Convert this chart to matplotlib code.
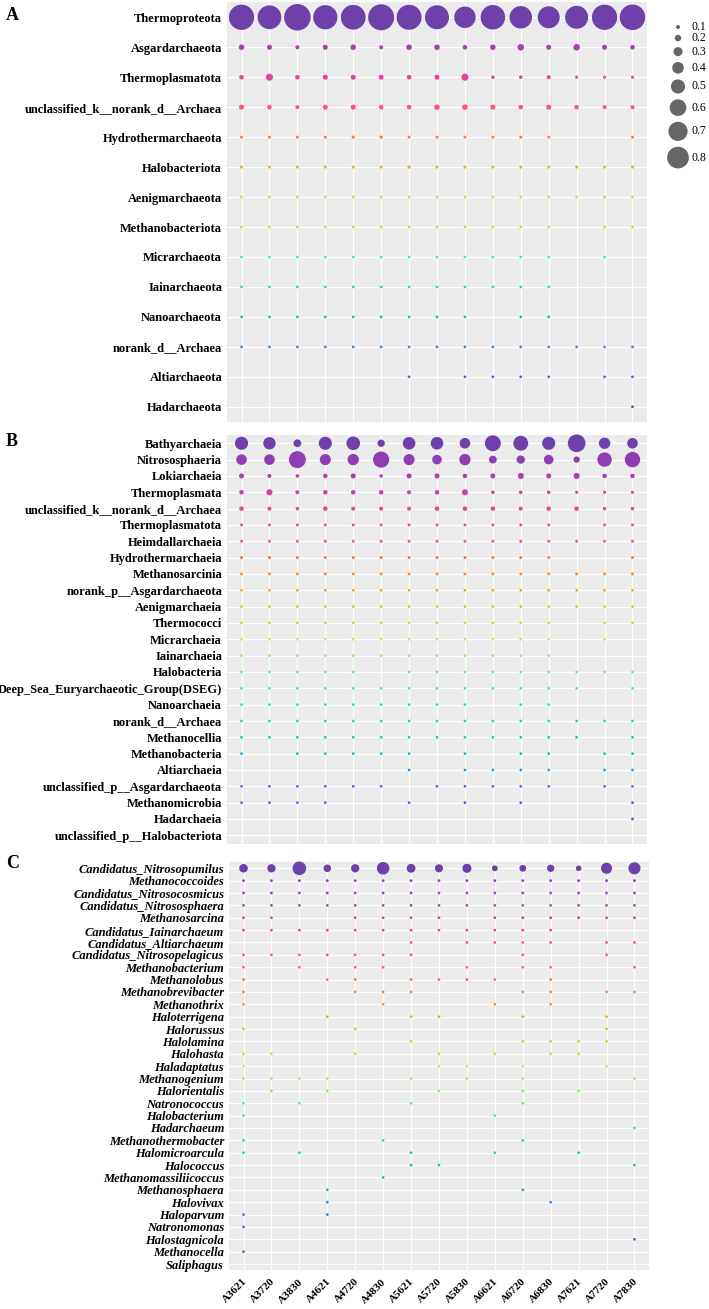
import numpy as np
import matplotlib
matplotlib.use("Agg")
import matplotlib.pyplot as plt
from matplotlib.transforms import ScaledTranslation

# samples (columns), shared by all three panels
samples = ["A3621", "A3720", "A3830", "A4621", "A4720", "A4830", "A5621", "A5720",
           "A5830", "A6621", "A6720", "A6830", "A7621", "A7720", "A7830"]

# panel A: phylum level
phylum_taxa = ["Thermoproteota", "Asgardarchaeota", "Thermoplasmatota",
               "unclassified_k__norank_d__Archaea", "Hydrothermarchaeota",
               "Halobacteriota", "Aenigmarchaeota", "Methanobacteriota",
               "Micrarchaeota", "Iainarchaeota", "Nanoarchaeota",
               "norank_d__Archaea", "Altiarchaeota", "Hadarchaeota"]
phylum_vals = [
    [0.94, 0.88, 0.99, 0.90, 0.92, 0.97, 0.93, 0.89, 0.79, 0.91, 0.83, 0.81, 0.85, 0.94, 0.95],
    [0.16, 0.14, 0.10, 0.14, 0.16, 0.10, 0.16, 0.16, 0.12, 0.16, 0.20, 0.14, 0.20, 0.14, 0.12],
    [0.12, 0.22, 0.12, 0.14, 0.14, 0.14, 0.12, 0.14, 0.22, 0.08, 0.08, 0.10, 0.06, 0.06, 0.06],
    [0.14, 0.12, 0.10, 0.14, 0.14, 0.12, 0.12, 0.16, 0.16, 0.14, 0.12, 0.14, 0.12, 0.10, 0.10],
    [0.06, 0.06, 0.06, 0.06, 0.07, 0.07, 0.06, 0.06, 0.06, 0.06, 0.06, 0.06, 0, 0, 0.06],
    [0.06, 0.06, 0.06, 0.06, 0.06, 0.06, 0.07, 0.06, 0.06, 0.06, 0.06, 0.06, 0.06, 0.06, 0.06],
    [0.05, 0.05, 0.05, 0.05, 0.05, 0.05, 0.05, 0.05, 0.05, 0.05, 0.05, 0.05, 0.05, 0.05, 0.05],
    [0.05, 0.05, 0.05, 0.05, 0.05, 0.05, 0.05, 0.05, 0.05, 0.05, 0.05, 0.05, 0, 0.05, 0.05],
    [0.05, 0.05, 0.05, 0.05, 0.05, 0.05, 0.05, 0.05, 0.05, 0.05, 0.05, 0.05, 0, 0.05, 0],
    [0.05, 0.05, 0.05, 0.05, 0.05, 0.05, 0.05, 0.05, 0.05, 0.05, 0.05, 0.05, 0, 0, 0],
    [0.05, 0.05, 0.05, 0.05, 0.05, 0.05, 0.05, 0.05, 0.05, 0, 0.05, 0.05, 0, 0, 0],
    [0.05, 0.05, 0.05, 0.05, 0.05, 0.05, 0.05, 0.05, 0.05, 0.05, 0.05, 0.05, 0.05, 0.05, 0.05],
    [0, 0, 0, 0, 0, 0, 0.05, 0, 0.05, 0.05, 0.05, 0.05, 0, 0.05, 0.05],
    [0, 0, 0, 0, 0, 0, 0, 0, 0, 0, 0, 0, 0, 0, 0.05],
]

# panel B: class level
class_taxa = ["Bathyarchaeia", "Nitrososphaeria", "Lokiarchaeia", "Thermoplasmata",
              "unclassified_k__norank_d__Archaea", "Thermoplasmatota", "Heimdallarchaeia",
              "Hydrothermarchaeia", "Methanosarcinia", "norank_p__Asgardarchaeota",
              "Aenigmarchaeia", "Thermococci", "Micrarchaeia", "Iainarchaeia",
              "Halobacteria", "Deep_Sea_Euryarchaeotic_Group(DSEG)", "Nanoarchaeia",
              "norank_d__Archaea", "Methanocellia", "Methanobacteria", "Altiarchaeia",
              "unclassified_p__Asgardarchaeota", "Methanomicrobia", "Hadarchaeia",
              "unclassified_p__Halobacteriota"]
class_vals = [
    [0.46, 0.43, 0.25, 0.46, 0.48, 0.23, 0.44, 0.44, 0.36, 0.57, 0.53, 0.46, 0.64, 0.39, 0.36],
    [0.36, 0.36, 0.61, 0.38, 0.39, 0.58, 0.38, 0.32, 0.39, 0.25, 0.27, 0.32, 0.19, 0.51, 0.55],
    [0.14, 0.10, 0.08, 0.12, 0.14, 0.08, 0.14, 0.14, 0.12, 0.14, 0.18, 0.14, 0.18, 0.12, 0.12],
    [0.12, 0.18, 0.10, 0.12, 0.12, 0.12, 0.10, 0.12, 0.18, 0.08, 0.08, 0.08, 0.06, 0.06, 0.06],
    [0.12, 0.10, 0.08, 0.12, 0.10, 0.10, 0.10, 0.12, 0.12, 0.12, 0.10, 0.12, 0.12, 0.08, 0.08],
    [0.06, 0.06, 0.06, 0.06, 0.06, 0.06, 0.06, 0.06, 0.06, 0.06, 0.06, 0.06, 0, 0.06, 0.06],
    [0.06, 0.06, 0.06, 0.06, 0.06, 0.06, 0.06, 0.06, 0.06, 0.06, 0.06, 0.06, 0.06, 0.06, 0.06],
    [0.06, 0.06, 0.06, 0.06, 0.06, 0.06, 0.06, 0.06, 0.06, 0.06, 0.06, 0.06, 0, 0, 0.06],
    [0.06, 0.06, 0.06, 0.06, 0.06, 0.06, 0.06, 0.06, 0.06, 0.06, 0.06, 0.06, 0.06, 0.06, 0.06],
    [0.05, 0.05, 0.05, 0.05, 0.05, 0.05, 0.05, 0.05, 0.05, 0.05, 0.05, 0.05, 0.05, 0.05, 0.05],
    [0.05, 0.05, 0.05, 0.05, 0.05, 0.05, 0.05, 0.05, 0.05, 0.05, 0.05, 0.05, 0.05, 0.05, 0.05],
    [0.05, 0.05, 0.05, 0.05, 0.05, 0.05, 0.05, 0.05, 0.05, 0.05, 0.05, 0.05, 0, 0.05, 0.05],
    [0.05, 0.05, 0.05, 0.05, 0.05, 0.05, 0.05, 0.05, 0.05, 0.05, 0.05, 0.05, 0, 0.05, 0],
    [0.05, 0.05, 0.05, 0.05, 0.05, 0.05, 0.05, 0.05, 0.05, 0.05, 0.05, 0.05, 0, 0, 0],
    [0.05, 0.05, 0.05, 0.05, 0.05, 0, 0.05, 0.05, 0.05, 0.05, 0.05, 0.05, 0.05, 0.05, 0.05],
    [0.05, 0.05, 0.05, 0.05, 0.05, 0.05, 0.05, 0.05, 0.05, 0.05, 0.05, 0.05, 0.05, 0, 0.05],
    [0.05, 0.05, 0.05, 0.05, 0.05, 0.05, 0.05, 0.05, 0.05, 0, 0.05, 0.05, 0, 0, 0],
    [0.05, 0.05, 0.05, 0.05, 0.05, 0.05, 0.05, 0.05, 0.05, 0.05, 0.05, 0.05, 0.05, 0.05, 0.05],
    [0.05, 0.05, 0.05, 0.05, 0.05, 0.05, 0.05, 0.05, 0.05, 0.05, 0.05, 0.05, 0.05, 0, 0.05],
    [0.05, 0, 0.05, 0.05, 0.05, 0.05, 0.05, 0, 0.05, 0, 0.05, 0.05, 0, 0.05, 0.05],
    [0, 0, 0, 0, 0, 0, 0.05, 0, 0.05, 0.05, 0.05, 0.05, 0, 0.05, 0.05],
    [0.05, 0.05, 0.05, 0.05, 0.05, 0.05, 0, 0.05, 0.05, 0.05, 0.05, 0.05, 0, 0.05, 0.05],
    [0.05, 0.05, 0.05, 0.05, 0, 0, 0.05, 0, 0.05, 0, 0.05, 0, 0, 0, 0.05],
    [0, 0, 0, 0, 0, 0, 0, 0, 0, 0, 0, 0, 0, 0, 0.05],
    [0, 0, 0, 0, 0, 0, 0, 0, 0, 0, 0, 0, 0, 0, 0],
]

# panel C: genus level
genus_taxa = ["Candidatus_Nitrosopumilus", "Methanococcoides", "Candidatus_Nitrosocosmicus",
              "Candidatus_Nitrososphaera", "Methanosarcina", "Candidatus_Iainarchaeum",
              "Candidatus_Altiarchaeum", "Candidatus_Nitrosopelagicus", "Methanobacterium",
              "Methanolobus", "Methanobrevibacter", "Methanothrix", "Haloterrigena",
              "Halorussus", "Halolamina", "Halohasta", "Haladaptatus", "Methanogenium",
              "Halorientalis", "Natronococcus", "Halobacterium", "Hadarchaeum",
              "Methanothermobacter", "Halomicroarcula", "Halococcus",
              "Methanomassiliicoccus", "Methanosphaera", "Halovivax", "Haloparvum",
              "Natronomonas", "Halostagnicola", "Methanocella", "Saliphagus"]
genus_vals = [
    [0.28, 0.27, 0.48, 0.24, 0.27, 0.44, 0.29, 0.26, 0.30, 0.17, 0.21, 0.23, 0.16, 0.38, 0.42],
    [0.05, 0.05, 0.05, 0.05, 0.05, 0.05, 0.05, 0.05, 0.05, 0.05, 0.05, 0.05, 0.05, 0.05, 0.05],
    [0.05, 0.05, 0.05, 0.05, 0.05, 0.05, 0.05, 0.05, 0.05, 0.05, 0.05, 0.05, 0.05, 0.05, 0.05],
    [0.05, 0.05, 0.05, 0.05, 0.05, 0.05, 0.05, 0.05, 0.05, 0.05, 0.05, 0.05, 0.05, 0.05, 0.05],
    [0.05, 0.05, 0, 0, 0.05, 0.05, 0.05, 0.05, 0, 0.05, 0.05, 0.05, 0.05, 0.05, 0.05],
    [0.05, 0.05, 0.05, 0.05, 0.05, 0.05, 0.05, 0.05, 0.05, 0.05, 0.05, 0.05, 0, 0, 0],
    [0, 0, 0, 0, 0, 0, 0.05, 0, 0.05, 0.05, 0.05, 0.05, 0, 0.05, 0.05],
    [0.05, 0.05, 0.05, 0.05, 0.05, 0.05, 0.05, 0, 0, 0, 0.05, 0, 0, 0.05, 0],
    [0.05, 0, 0.05, 0, 0.05, 0.05, 0, 0, 0.05, 0, 0.05, 0.05, 0, 0, 0.05],
    [0.05, 0, 0, 0.05, 0.05, 0, 0.05, 0.05, 0.05, 0.05, 0, 0.05, 0, 0, 0],
    [0.05, 0, 0, 0, 0.05, 0.05, 0.05, 0, 0, 0, 0.05, 0.05, 0, 0.05, 0.05],
    [0.05, 0, 0, 0, 0, 0.05, 0, 0, 0, 0.05, 0, 0.05, 0, 0, 0],
    [0, 0, 0, 0.05, 0, 0, 0.05, 0.05, 0, 0, 0.05, 0, 0, 0.05, 0],
    [0.05, 0, 0, 0, 0.05, 0, 0, 0, 0, 0, 0, 0, 0, 0.05, 0],
    [0, 0, 0, 0, 0, 0, 0.05, 0, 0, 0, 0.05, 0.05, 0.05, 0.05, 0],
    [0.05, 0.05, 0, 0, 0.05, 0, 0, 0.05, 0, 0.05, 0, 0.05, 0.05, 0, 0],
    [0.05, 0, 0, 0, 0, 0, 0, 0.05, 0.05, 0, 0.05, 0, 0, 0.05, 0],
    [0.05, 0.05, 0.05, 0.05, 0, 0, 0.05, 0, 0.05, 0, 0.05, 0, 0, 0, 0.05],
    [0, 0.05, 0, 0.05, 0, 0, 0, 0.05, 0, 0, 0.05, 0, 0.05, 0, 0],
    [0.05, 0, 0.05, 0, 0, 0, 0.05, 0, 0, 0, 0.05, 0, 0, 0, 0],
    [0.05, 0, 0, 0, 0, 0, 0, 0, 0, 0.05, 0, 0, 0, 0, 0],
    [0, 0, 0, 0, 0, 0, 0, 0, 0, 0, 0, 0, 0, 0, 0.05],
    [0.05, 0, 0, 0, 0, 0.05, 0, 0, 0, 0, 0.05, 0, 0, 0, 0],
    [0.05, 0, 0.05, 0, 0, 0, 0.05, 0, 0, 0.05, 0, 0, 0.05, 0, 0],
    [0, 0, 0, 0, 0, 0, 0.05, 0.05, 0, 0, 0, 0, 0, 0, 0.05],
    [0, 0, 0, 0, 0, 0.05, 0, 0, 0, 0, 0, 0, 0, 0, 0],
    [0, 0, 0, 0.05, 0, 0, 0, 0, 0, 0, 0.05, 0, 0, 0, 0],
    [0, 0, 0, 0.05, 0, 0, 0, 0, 0, 0, 0, 0.05, 0, 0, 0],
    [0.05, 0, 0, 0.05, 0, 0, 0, 0, 0, 0, 0, 0, 0, 0, 0],
    [0.05, 0, 0, 0, 0, 0, 0, 0, 0, 0, 0, 0, 0, 0, 0],
    [0, 0, 0, 0, 0, 0, 0, 0, 0, 0, 0, 0, 0, 0, 0.05],
    [0.05, 0, 0, 0, 0, 0, 0, 0, 0, 0, 0, 0, 0, 0, 0],
    [0, 0, 0, 0, 0, 0, 0, 0, 0, 0, 0, 0, 0, 0, 0],
]

legend_breaks = [0.1, 0.2, 0.3, 0.4, 0.5, 0.6, 0.7, 0.8]

W, H, DPI = 709, 1309, 100
SERIF = ["Liberation Serif", "DejaVu Serif"]


def rainbow(t):
    # cyclical cubehelix rainbow (same as d3.interpolateRainbow)
    ts = abs(t - 0.5)
    h = np.radians(360 * t - 100 + 120)
    s = 1.5 - 1.5 * ts
    l = 0.8 - 0.9 * ts
    a = s * l * (1 - l)
    r = l + a * (-0.14861 * np.cos(h) + 1.78277 * np.sin(h))
    g = l + a * (-0.29227 * np.cos(h) - 0.90649 * np.sin(h))
    b = l + a * (1.97294 * np.cos(h))
    return tuple(np.clip([r, g, b], 0, 1))


def dot_area(v):
    # diameter in px grows linearly with abundance, returned as pt^2
    d = 1.47 + 25.3 * v
    return (d * 72.0 / DPI) ** 2


def px_axes(left, top, right, bottom):
    return fig.add_axes([left / W, 1 - bottom / H, (right - left) / W, (bottom - top) / H])


def bubble(ax, taxa, vals, italic=False, xlabels=False, pad=0.5):
    n = len(taxa)
    cols = [rainbow(t) for t in np.linspace(0, 1, n)]
    for i, row in enumerate(vals):
        xs = [j for j, v in enumerate(row) if v > 0]
        ss = [dot_area(v) for v in row if v > 0]
        if xs:
            ax.scatter(xs, [i] * len(xs), s=ss, color=cols[i], edgecolors="none",
                       zorder=3, clip_on=False)
    ax.set_xlim(-0.52, len(samples) - 0.48)
    ax.set_ylim(n - 1 + pad, -pad)
    ax.set_facecolor("#EBEBEB")
    ax.set_xticks(range(len(samples)))
    ax.set_yticks(range(n))
    ax.set_yticklabels(taxa, family=SERIF, weight="bold", fontsize=9,
                       style="italic" if italic else "normal")
    ax.grid(True, color="white", lw=0.8, zorder=0)
    ax.set_axisbelow(True)
    for sp in ax.spines.values():
        sp.set_visible(False)
    ax.tick_params(length=0, pad=3.5)
    if xlabels:
        ax.set_xticklabels(samples, family=SERIF, weight="bold", fontsize=8,
                           rotation=45, ha="right", va="top")
        ax.tick_params(axis="x", pad=5)
        for lab in ax.get_xticklabels():
            lab.set_transform(lab.get_transform() + ScaledTranslation(5 / DPI, 0, fig.dpi_scale_trans))
    else:
        ax.set_xticklabels([])


fig = plt.figure(figsize=(W / DPI, H / DPI), dpi=DPI)

ax_a = px_axes(227, 2.3, 647, 421.8)
bubble(ax_a, phylum_taxa, phylum_vals)

ax_b = px_axes(227, 435.1, 647, 843.5)
bubble(ax_b, class_taxa, class_vals)

ax_c = px_axes(229, 862.1, 649, 1270.2)
bubble(ax_c, genus_taxa, genus_vals, italic=True, xlabels=True)

# overlay in pixel coordinates for panel letters and the size legend
ov = fig.add_axes([0, 0, 1, 1])
ov.set_xlim(0, W)
ov.set_ylim(H, 0)
ov.axis("off")

for letter, yy in [("A", 15), ("B", 441), ("C", 864)]:
    ov.text(6, yy, letter, family=SERIF, weight="bold", fontsize=13, va="center", ha="left")

y = 27.0
prev = None
for v in legend_breaks:
    d = 1.47 + 25.3 * v
    if prev is not None:
        y += (prev + d) / 2 + 5.8
    ov.scatter([678], [y], s=dot_area(v), color="#666666", edgecolors="none")
    ov.text(691, y, f"{v:.1f}", family=SERIF, fontsize=8.5, va="center", ha="left")
    prev = d

fig.savefig("out.png", dpi=DPI)
